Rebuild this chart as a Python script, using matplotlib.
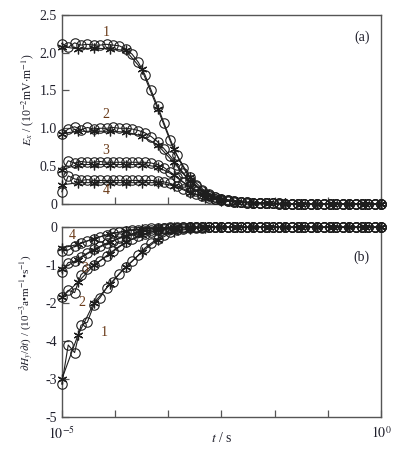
import numpy as np
import matplotlib
matplotlib.use("Agg")
import matplotlib.pyplot as plt

plt.rcParams['font.family'] = ['Liberation Serif', 'DejaVu Serif']
plt.rcParams['mathtext.fontset'] = 'stix'

# lg(t) grid for circle series and asterisk series
lg_circ = [-5.0, -4.9, -4.8, -4.7, -4.6, -4.5, -4.4, -4.3, -4.2, -4.1,
           -4.0, -3.9, -3.8, -3.7, -3.6, -3.5, -3.4, -3.3, -3.2, -3.1,
           -3.0, -2.9, -2.8, -2.7, -2.6, -2.5, -2.4, -2.3, -2.2, -2.1,
           -2.0, -1.9, -1.8, -1.7, -1.6, -1.5, -1.4, -1.3, -1.2, -1.1,
           -1.0, -0.9, -0.8, -0.7, -0.6, -0.5, -0.4, -0.3, -0.2, -0.1, 0.0]
lg_star = [-5.0, -4.75, -4.5, -4.25, -4.0, -3.75, -3.5, -3.25, -3.0, -2.75,
           -2.5, -2.25, -2.0, -1.75, -1.5, -1.25, -1.0, -0.75, -0.5, -0.25, 0.0]

# (a) Ex, 10^-2 mV/m
ex_c1 = [2.12, 2.07, 2.13, 2.10, 2.11, 2.10, 2.10, 2.11, 2.10, 2.09,
         2.05, 1.98, 1.87, 1.71, 1.50, 1.29, 1.07, 0.85, 0.65, 0.48,
         0.35, 0.25, 0.18, 0.13, 0.09, 0.06, 0.045, 0.035, 0.025, 0.02,
         0.015, 0.01, 0.01, 0.005, 0.005, 0.0, 0.0, 0.0, 0.0, 0.0,
         0.0, 0.0, 0.0, 0.0, 0.0, 0.0, 0.0, 0.0, 0.0, 0.0, 0.0]
ex_c2 = [0.92, 0.99, 1.02, 0.98, 1.01, 0.99, 1.00, 1.00, 1.01, 1.00,
         1.00, 0.99, 0.97, 0.94, 0.89, 0.82, 0.73, 0.63, 0.52, 0.41,
         0.31, 0.23, 0.17, 0.12, 0.09, 0.065, 0.05, 0.035, 0.025, 0.02,
         0.015, 0.01, 0.01, 0.005, 0.005, 0.0, 0.0, 0.0, 0.0, 0.0,
         0.0, 0.0, 0.0, 0.0, 0.0, 0.0, 0.0, 0.0, 0.0, 0.0, 0.0]
ex_c3 = [0.42, 0.57, 0.54, 0.56, 0.55, 0.55, 0.56, 0.55, 0.55, 0.55,
         0.55, 0.55, 0.55, 0.55, 0.54, 0.52, 0.48, 0.42, 0.36, 0.29,
         0.23, 0.17, 0.13, 0.10, 0.07, 0.05, 0.04, 0.03, 0.02, 0.015,
         0.01, 0.01, 0.005, 0.005, 0.0, 0.0, 0.0, 0.0, 0.0, 0.0,
         0.0, 0.0, 0.0, 0.0, 0.0, 0.0, 0.0, 0.0, 0.0, 0.0, 0.0]
ex_c4 = [0.16, 0.37, 0.33, 0.31, 0.32, 0.31, 0.31, 0.31, 0.31, 0.31,
         0.31, 0.31, 0.31, 0.31, 0.31, 0.30, 0.29, 0.27, 0.24, 0.20,
         0.16, 0.13, 0.10, 0.08, 0.06, 0.045, 0.035, 0.025, 0.02, 0.015,
         0.01, 0.01, 0.005, 0.005, 0.0, 0.0, 0.0, 0.0, 0.0, 0.0,
         0.0, 0.0, 0.0, 0.0, 0.0, 0.0, 0.0, 0.0, 0.0, 0.0, 0.0]
ex_s1 = [2.08, 2.05, 2.06, 2.05, 2.03, 1.78, 1.26, 0.72, 0.36, 0.16,
         0.07, 0.03, 0.015, 0.01, 0.005, 0.0, 0.0, 0.0, 0.0, 0.0, 0.0]
ex_s2 = [0.93, 0.96, 0.96, 0.96, 0.95, 0.90, 0.78, 0.55, 0.30, 0.14,
         0.06, 0.03, 0.015, 0.01, 0.005, 0.0, 0.0, 0.0, 0.0, 0.0, 0.0]
ex_s3 = [0.45, 0.52, 0.52, 0.52, 0.52, 0.52, 0.49, 0.38, 0.22, 0.11,
         0.05, 0.025, 0.01, 0.005, 0.0, 0.0, 0.0, 0.0, 0.0, 0.0, 0.0]
ex_s4 = [0.25, 0.28, 0.28, 0.28, 0.28, 0.28, 0.28, 0.24, 0.15, 0.08,
         0.04, 0.02, 0.01, 0.005, 0.0, 0.0, 0.0, 0.0, 0.0, 0.0, 0.0]

# (b) dHy/dt, 10^-3 A/(m s), plotted against the printed axis
dh_c1 = [-4.13, -3.10, -3.30, -2.58, -2.50, -2.05, -1.85, -1.60, -1.43, -1.22,
         -1.05, -0.90, -0.74, -0.55, -0.42, -0.30, -0.20, -0.13, -0.08, -0.05,
         -0.03, -0.02, -0.01, 0.0, 0.0, 0.0, 0.0, 0.0, 0.0, 0.0,
         0.0, 0.0, 0.0, 0.0, 0.0, 0.0, 0.0, 0.0, 0.0, 0.0,
         0.0, 0.0, 0.0, 0.0, 0.0, 0.0, 0.0, 0.0, 0.0, 0.0, 0.0]
dh_c2 = [-1.84, -1.66, -1.72, -1.25, -1.10, -1.00, -0.88, -0.75, -0.62, -0.50,
         -0.40, -0.31, -0.23, -0.17, -0.12, -0.08, -0.05, -0.03, -0.02, -0.01,
         0.0, 0.0, 0.0, 0.0, 0.0, 0.0, 0.0, 0.0, 0.0, 0.0,
         0.0, 0.0, 0.0, 0.0, 0.0, 0.0, 0.0, 0.0, 0.0, 0.0,
         0.0, 0.0, 0.0, 0.0, 0.0, 0.0, 0.0, 0.0, 0.0, 0.0, 0.0]
dh_c3 = [-1.18, -0.93, -0.90, -0.78, -0.68, -0.58, -0.50, -0.42, -0.35, -0.28,
         -0.22, -0.17, -0.13, -0.10, -0.07, -0.05, -0.03, -0.02, -0.01, 0.0,
         0.0, 0.0, 0.0, 0.0, 0.0, 0.0, 0.0, 0.0, 0.0, 0.0,
         0.0, 0.0, 0.0, 0.0, 0.0, 0.0, 0.0, 0.0, 0.0, 0.0,
         0.0, 0.0, 0.0, 0.0, 0.0, 0.0, 0.0, 0.0, 0.0, 0.0, 0.0]
dh_c4 = [-0.62, -0.60, -0.50, -0.42, -0.36, -0.30, -0.25, -0.20, -0.16, -0.13,
         -0.10, -0.08, -0.06, -0.04, -0.03, -0.02, -0.01, 0.0, 0.0, 0.0,
         0.0, 0.0, 0.0, 0.0, 0.0, 0.0, 0.0, 0.0, 0.0, 0.0,
         0.0, 0.0, 0.0, 0.0, 0.0, 0.0, 0.0, 0.0, 0.0, 0.0,
         0.0, 0.0, 0.0, 0.0, 0.0, 0.0, 0.0, 0.0, 0.0, 0.0, 0.0]
dh_s1 = [-4.00, -2.85, -2.00, -1.50, -1.05, -0.65, -0.33, -0.12, -0.04, -0.01,
         0.0, 0.0, 0.0, 0.0, 0.0, 0.0, 0.0, 0.0, 0.0, 0.0, 0.0]
dh_s2 = [-1.84, -1.45, -1.00, -0.70, -0.40, -0.20, -0.08, -0.03, 0.0, 0.0,
         0.0, 0.0, 0.0, 0.0, 0.0, 0.0, 0.0, 0.0, 0.0, 0.0, 0.0]
dh_s3 = [-1.10, -0.85, -0.60, -0.40, -0.23, -0.12, -0.05, -0.02, 0.0, 0.0,
         0.0, 0.0, 0.0, 0.0, 0.0, 0.0, 0.0, 0.0, 0.0, 0.0, 0.0]
dh_s4 = [-0.55, -0.45, -0.30, -0.18, -0.10, -0.05, -0.02, 0.0, 0.0, 0.0,
         0.0, 0.0, 0.0, 0.0, 0.0, 0.0, 0.0, 0.0, 0.0, 0.0, 0.0]

top_yticks = [0, 0.5, 1.0, 1.5, 2.0, 2.5]
top_ylabels = ['0', '0.5', '1.0', '1.5', '2.0', '2.5']
bot_yticks = [0, -1, -2, -3, -4, -5]
bot_ylabels = ['0', '-1', '-2', '-4', '-3', '-5']  # as printed in the source figure
curve_names = ['1', '2', '3', '4']

t_c = 10.0 ** np.array(lg_circ)
t_s = 10.0 ** np.array(lg_star)
lc = '#1e1e1e'
num_color = '#6a3a18'
txt_color = '#20202c'
spine_c = '#555555'
asterisk = (6, 2, 0)


def style_axes(ax):
    ax.set_xscale('log')
    ax.set_xlim(1e-5, 1e0)
    for s in ax.spines.values():
        s.set_color(spine_c)
        s.set_linewidth(1.0)
    ticks = 10.0 ** np.linspace(-5, 0, 7)
    ax.set_xticks(ticks)
    ax.xaxis.set_minor_locator(matplotlib.ticker.NullLocator())
    ax.tick_params(axis='both', direction='in', length=5, width=0.9,
                   colors=spine_c, labelcolor=txt_color, labelsize=10)
    ax.tick_params(axis='y', right=False)
    ax.tick_params(axis='x', top=False)


def draw(ax, circ, star):
    for y in circ:
        ax.plot(t_c, y, color=lc, lw=0.8, marker='o', ms=6.8, mfc='none',
                mec=lc, mew=0.8, clip_on=False, zorder=3)
    for y in star:
        ax.plot(t_s, y, color=lc, lw=0.8, marker=asterisk, ms=7, mec=lc,
                mew=0.9, clip_on=False, zorder=3)


fig = plt.figure(figsize=(3.99, 4.5), dpi=100)
ax1 = fig.add_axes([0.155, 0.547, 0.8, 0.42])
ax2 = fig.add_axes([0.155, 0.073, 0.8, 0.422])

# panel (a)
style_axes(ax1)
draw(ax1, [ex_c1, ex_c2, ex_c3, ex_c4], [ex_s1, ex_s2, ex_s3, ex_s4])
ax1.set_ylim(0, 2.5)
ax1.set_yticks(top_yticks)
ax1.set_yticklabels(top_ylabels)
ax1.set_xticklabels([''] * 7)
ax1.set_ylabel(r'$E_x$ / (10$^{-2}$mV$\cdot$m$^{-1}$)', fontsize=8.5, color=txt_color)
ax1.yaxis.set_label_coords(-0.08, 0.55)
ax1.text(0.94, 0.88, '(a)', transform=ax1.transAxes, ha='center', va='center',
         fontsize=10, color=txt_color)
for name, lg, v in zip(curve_names, [-4.31, -4.31, -4.31, -4.31], [2.26, 1.18, 0.70, 0.17]):
    ax1.text(10 ** lg, v, name, ha='center', va='center', fontsize=10, color=num_color)

# panel (b)
style_axes(ax2)
draw(ax2, [dh_c1, dh_c2, dh_c3, dh_c4], [dh_s1, dh_s2, dh_s3, dh_s4])
ax2.set_ylim(-5, 0)
ax2.set_yticks(bot_yticks)
ax2.set_yticklabels(bot_ylabels)
ax2.set_xticklabels(['$10^{-5}$', '', '', '', '', '', '$10^{0}$'])
ax2.tick_params(axis='x', pad=6)
ax2.set_xlabel(r'$t$ / s', fontsize=10, color=txt_color)
ax2.xaxis.set_label_coords(0.5, -0.075)
ax2.set_ylabel(r'$\partial H_y$/$\partial t$) / (10$^{-3}$a•m$^{-1}$•s$^{-1}$)',
               fontsize=8, color=txt_color)
ax2.yaxis.set_label_coords(-0.08, 0.55)
ax2.text(0.94, 0.84, '(b)', transform=ax2.transAxes, ha='center', va='center',
         fontsize=10, color=txt_color)
for name, lg, v in zip(curve_names, [-4.34, -4.69, -4.64, -4.84], [-2.76, -1.97, -1.08, -0.21]):
    ax2.text(10 ** lg, v, name, ha='center', va='center', fontsize=10, color=num_color)

fig.savefig('out.png', dpi=100)
